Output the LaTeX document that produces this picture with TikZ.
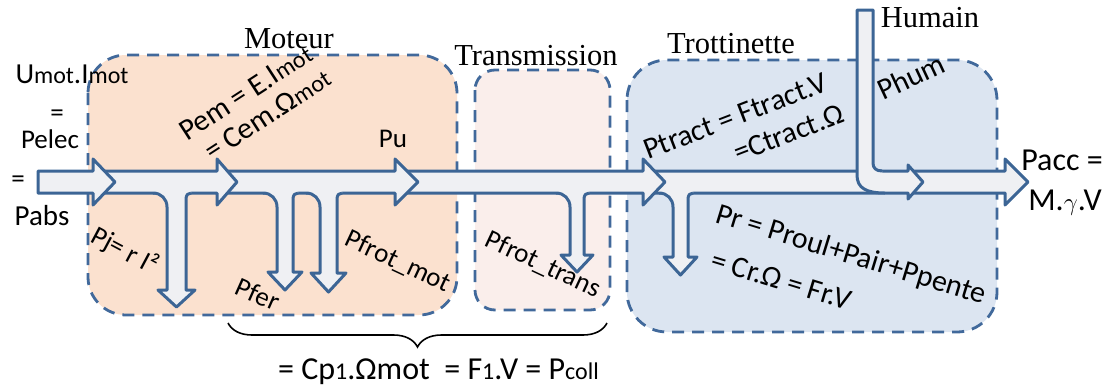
\documentclass[tikz,border=0pt]{standalone}
\usepackage{fontspec}
\setmainfont{Carlito}
\newfontfamily\serifont{Liberation Serif}
\usetikzlibrary{decorations.pathreplacing}
\definecolor{boxblue}{HTML}{41699B}
\definecolor{arrowblue}{HTML}{3C6595}
\definecolor{arrowfill}{HTML}{EFF0F3}
\definecolor{peach}{HTML}{FBE1CF}
\definecolor{pinkish}{HTML}{FAEEEB}
\definecolor{lightblue}{HTML}{DCE5F1}
\newcommand\sm[1]{{\fontsize{21}{24}\selectfont #1}}
\newcommand\smb[1]{{\fontsize{24}{26}\selectfont #1}}
\tikzset{
 aline/.style={draw=arrowblue, line width=3pt, line join=round},
 afill/.style={fill=arrowfill},
 arrowsty/.style={aline, fill=arrowfill},
 boxsty/.style={draw=boxblue, line width=2.8pt, dash pattern=on 12pt off 8pt},
 lbl/.style={font=\fontsize{27}{32}\selectfont, inner sep=0pt},
 big/.style={font=\fontsize{30}{34}\selectfont, inner sep=0pt},
 huge/.style={font=\fontsize{32}{36}\selectfont, inner sep=0pt},
 ttl/.style={font=\serifont\fontsize{30.5}{32}\selectfont, inner sep=0pt},
}
\newcommand\bandarr[4]{%
 \filldraw[arrowsty] (#1,171) -- (#2,171) -- (#2,182-#4) -- (#3,182) -- (#2,182+#4) -- (#2,193) -- (#1,193) -- cycle;}
\newcommand\lossarr[4]{%
 \fill[afill] (#1-14,186) -- (#1-14,193) .. controls (#1-6,193) and (#1,199) .. (#1,207) -- (#1,#3) -- (#1-9,#3) -- ({(#1+#2)/2},#4) -- (#2+9,#3) -- (#2,#3) -- (#2,199) .. controls (#2,195) and (#2+2,193) .. (#2+5,193) -- (#2+5,186) -- cycle;
 \draw[aline] (#1-14,193) .. controls (#1-6,193) and (#1,199) .. (#1,207) -- (#1,#3) -- (#1-9,#3) -- ({(#1+#2)/2},#4) -- (#2+9,#3) -- (#2,#3) -- (#2,199) .. controls (#2,195) and (#2+2,193) .. (#2+5,193);}
\begin{document}
\begin{tikzpicture}[x=1pt,y=-1pt]
\useasboundingbox (0,0) rectangle (1109,389);
% boxes
\filldraw[boxsty, fill=peach, rounded corners=38pt] (88,55) rectangle (457,315);
\filldraw[boxsty, fill=pinkish, rounded corners=20pt] (475,70) rectangle (610,310);
\filldraw[boxsty, fill=lightblue, rounded corners=40pt] (627,60) rectangle (997,332);
% band arrows and losses
\bandarr{908}{1005}{1028}{23}
\bandarr{643}{908}{923}{17}
\filldraw[arrowsty] (885,193) .. controls (866,193) and (857,188) .. (857,175) -- (857,10) -- (873,10) -- (873,163) .. controls (873,168) and (876,171) .. (882,171);
\lossarr{673}{688}{257}{275}
\bandarr{395}{643}{665}{23}
\lossarr{570}{584}{255}{272}
\bandarr{217}{395}{418}{23}
\lossarr{277}{293}{272}{290}
\lossarr{320}{337}{273}{292}
\bandarr{93}{217}{237}{23}
\lossarr{167}{186}{290}{307}
\bandarr{38}{93}{115}{23}
% titles
\node[ttl, anchor=base] (tmot) at (289,48) {Moteur};
\node[ttl, anchor=base] (ttra) at (536,65) {Transmission};
\node[ttl, anchor=base] (ttro) at (731,53) {Trottinette};
\node[ttl, anchor=base] (thum) at (930,27) {Humain};
% left labels
\node[lbl, anchor=base] (uimot) at (72,83) {\fontsize{29}{32}\selectfont U\smb{mot}.I\smb{mot}};
\node[lbl, anchor=base] (eq1) at (57,121) {=};
\node[lbl, anchor=base] (pelec) at (50,148) {Pelec};
\node[lbl, anchor=base] (eq2) at (18,187) {=};
\node[lbl, anchor=base] (pabs) at (42,225) {\fontsize{29}{32}\selectfont Pabs};
% motor
\node[big, anchor=base west, rotate=33] (pem1) at (187,142) {Pem = E.I\smb{mot}};
\node[big, anchor=base west, rotate=33] (pem2) at (212,162) {= Cem.Ω\smb{mot}};
\node[lbl, anchor=base] (pu) at (393,147) {Pu};
\node[lbl, rotate=-28] (pj) at (125,251) {Pj= r I²};
\node[lbl, rotate=-24] (pfer) at (258,294) {Pfer};
\node[lbl, rotate=-25] (pfm) at (398,262) {Pfrot\_mot};
\node[lbl, rotate=-25] (pft) at (543,265) {Pfrot\_trans};
% trottinette
\node[big, anchor=base west, rotate=21] (pt1) at (648,160) {Ptract = Ftract.V};
\node[big, anchor=base west, rotate=21] (pt2) at (738,163) {=Ctract.Ω};
\node[big, anchor=base west, rotate=25] (phum) at (883,101) {Phum};
\node[big, anchor=base west, rotate=-17] (pr1) at (714,222) {Pr = Proul+Pair+Ppente};
\node[big, anchor=base west, rotate=-17] (pr2) at (709,268) {= Cr.Ω = Fr.V};
% right
\node[huge, anchor=base] (pacc) at (1062,170) {Pacc =};
\node[huge, anchor=base] (mgv) at (1065,210) {M.$\gamma$.V};
% brace
\coordinate (bl) at (228,323);
\coordinate (br) at (607,323);
\draw[black, line width=1.6pt, decorate, decoration={brace, mirror, amplitude=24pt}] (bl) -- (br);
\node[huge, anchor=base west] (pcoll) at (278,379) {= Cp\smb{1}.Ωmot~~= F\smb{1}.V = P\smb{coll}};
\end{tikzpicture}
\end{document}
